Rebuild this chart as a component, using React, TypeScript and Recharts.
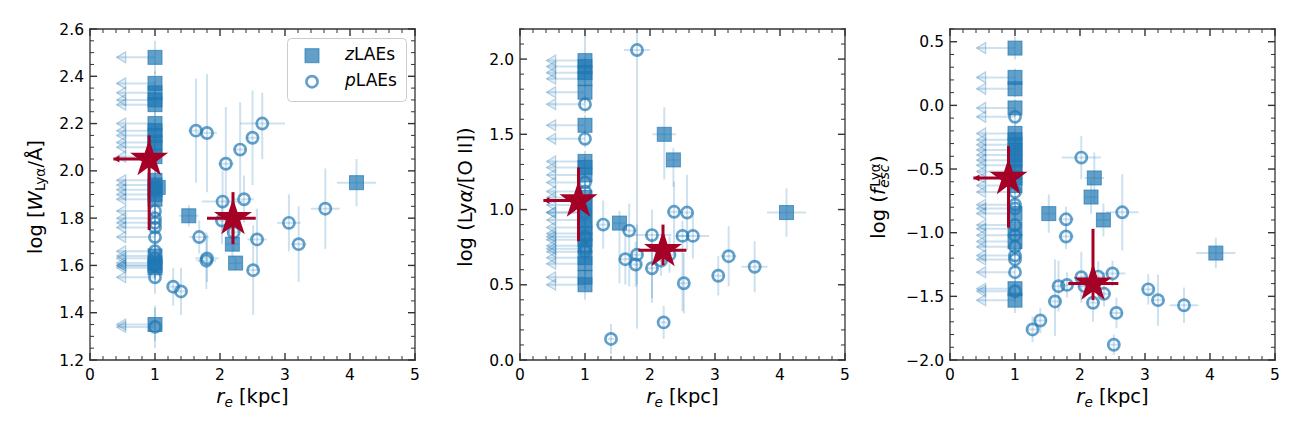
import React from 'react';
import { ScatterChart, Scatter, XAxis, YAxis, ErrorBar, Legend } from 'recharts';

type EV = number | [number, number];
interface Pt { x: number; y: number; ex?: EV; ey?: EV; lim?: boolean }

const FONT = '"DejaVu Sans", Verdana, sans-serif';
const INK = '#333333';
const MARK = 'rgba(31,119,180,0.7)';
const ERR = 'rgba(31,119,180,0.22)';
const ARROW_FILL = 'rgba(31,119,180,0.12)';
const ARROW_EDGE = 'rgba(31,119,180,0.3)';
const RED = '#a50026';

// ---------- shared x axis ----------
const X_DOMAIN: [number, number] = [0, 5];
const X_MAJOR = [0, 1, 2, 3, 4, 5];
const X_MINOR_STEP = 0.2;
const LIMIT_TIP = 0.41; // r_e where the upper-limit arrows end
const STAR_TIP = 0.36;

// ---------- panel 1 : log W_Lya ----------
const W_DOMAIN: [number, number] = [1.2, 2.6];
const W_MAJOR = [1.2, 1.4, 1.6, 1.8, 2.0, 2.2, 2.4, 2.6];
const W_MINOR_STEP = 0.05;
const W_LIM_Z: Pt[] = [
  { x: 1, y: 2.48, ey: 0.07 }, { x: 1, y: 2.37, ey: 0.05 }, { x: 1, y: 2.33, ey: 0.05 },
  { x: 1, y: 2.30, ey: 0.05 }, { x: 1, y: 2.28, ey: 0.05 }, { x: 1, y: 2.20, ey: 0.05 },
  { x: 1, y: 2.17, ey: 0.05 }, { x: 1, y: 2.15, ey: 0.05 }, { x: 1, y: 2.12, ey: 0.05 },
  { x: 1, y: 2.10, ey: 0.05 }, { x: 1, y: 2.06, ey: 0.05 }, { x: 1, y: 1.96, ey: 0.06 },
  { x: 1, y: 1.94, ey: 0.06 }, { x: 1, y: 1.92, ey: 0.06 }, { x: 1, y: 1.90, ey: 0.06 },
  { x: 1, y: 1.88, ey: 0.06 }, { x: 1, y: 1.64, ey: 0.06 }, { x: 1, y: 1.61, ey: 0.06 },
  { x: 1, y: 1.60, ey: 0.06 }, { x: 1, y: 1.59, ey: 0.06 }, { x: 1, y: 1.35, ey: 0.07 },
];
const W_LIM_P: Pt[] = [
  { x: 1, y: 1.83, ey: 0.06 }, { x: 1, y: 1.80, ey: 0.06 }, { x: 1, y: 1.78, ey: 0.06 },
  { x: 1, y: 1.76, ey: 0.06 }, { x: 1, y: 1.72, ey: 0.06 }, { x: 1, y: 1.66, ey: 0.06 },
  { x: 1, y: 1.63, ey: 0.06 }, { x: 1, y: 1.60, ey: 0.06 }, { x: 1, y: 1.55, ey: 0.07 },
  { x: 1, y: 1.34, ey: 0.09 },
];
const W_DET_Z: Pt[] = [
  { x: 1.05, y: 1.93, ey: 0.04 }, { x: 1.52, y: 1.81, ex: 0.15, ey: 0.045 },
  { x: 2.19, y: 1.69, ex: 0.1, ey: 0.06 }, { x: 2.24, y: 1.61, ex: 0.1, ey: 0.03 },
  { x: 4.10, y: 1.95, ex: 0.3, ey: 0.1 },
];
const W_DET_P: Pt[] = [
  { x: 1.63, y: 2.17, ex: 0.12, ey: 0.22 }, { x: 1.80, y: 2.16, ex: 0.15, ey: 0.25 },
  { x: 2.09, y: 2.03, ex: 0.12, ey: [0.18, 0.24] }, { x: 2.31, y: 2.09, ex: 0.1, ey: 0.2 },
  { x: 2.50, y: 2.14, ex: 0.1, ey: 0.2 }, { x: 2.65, y: 2.20, ex: [0.34, 0.35], ey: [0.15, 0.13] },
  { x: 2.04, y: 1.87, ex: 0.32, ey: 0.13 }, { x: 2.37, y: 1.88, ex: 0.15, ey: 0.1 },
  { x: 2.03, y: 1.79, ex: 0.1, ey: 0.1 }, { x: 2.21, y: 1.74, ex: 0.1, ey: 0.08 },
  { x: 1.68, y: 1.72, ex: 0.15, ey: 0.07 }, { x: 1.80, y: 1.63, ex: 0.18, ey: 0.1 },
  { x: 1.79, y: 1.62, ex: 0.15, ey: 0.12 }, { x: 2.57, y: 1.71, ex: 0.15, ey: 0.13 },
  { x: 2.51, y: 1.58, ex: 0.1, ey: 0.19 }, { x: 1.28, y: 1.51, ex: 0.08, ey: 0.08 },
  { x: 1.40, y: 1.49, ex: 0.08, ey: 0.1 }, { x: 3.06, y: 1.78, ex: 0.18, ey: 0.12 },
  { x: 3.21, y: 1.69, ex: 0.12, ey: 0.16 }, { x: 3.62, y: 1.84, ex: 0.22, ey: 0.17 },
];
const W_STARS: Pt[] = [
  { x: 0.91, y: 2.05, ex: [0.55, 0], ey: [0.30, 0.10], lim: true },
  { x: 2.20, y: 1.80, ex: [0.40, 0.35], ey: [0.11, 0.11] },
];

// ---------- panel 2 : log (Lya/[O II]) ----------
const R_DOMAIN: [number, number] = [0, 2.2];
const R_MAJOR = [0, 0.5, 1.0, 1.5, 2.0];
const R_MINOR_STEP = 0.1;
const R_LIM_Z: Pt[] = [
  { x: 1, y: 1.99, ey: [0.06, 0.2] }, { x: 1, y: 1.95, ey: 0.06 }, { x: 1, y: 1.91, ey: 0.06 },
  { x: 1, y: 1.87, ey: 0.06 }, { x: 1, y: 1.78, ey: 0.07 }, { x: 1, y: 1.56, ey: 0.07 },
  { x: 1, y: 1.32, ey: 0.07 }, { x: 1, y: 1.28, ey: 0.07 }, { x: 1, y: 1.23, ey: 0.07 },
  { x: 1, y: 1.08, ey: 0.07 }, { x: 1, y: 1.03, ey: 0.07 }, { x: 1, y: 0.98, ey: 0.07 },
  { x: 1, y: 0.93, ey: 0.07 }, { x: 1, y: 0.88, ey: 0.07 }, { x: 1, y: 0.84, ey: 0.07 },
  { x: 1, y: 0.80, ey: 0.07 }, { x: 1, y: 0.76, ey: 0.07 }, { x: 1, y: 0.68, ey: 0.07 },
  { x: 1, y: 0.64, ey: 0.07 }, { x: 1, y: 0.55, ey: 0.08 }, { x: 1, y: 0.50, ey: 0.1 },
];
const R_LIM_P: Pt[] = [
  { x: 1, y: 1.70, ey: 0.06 }, { x: 1, y: 1.47, ey: 0.06 }, { x: 1, y: 1.18, ey: 0.07 },
  { x: 1, y: 1.12, ey: 0.07 }, { x: 1, y: 0.98, ey: 0.07 }, { x: 1, y: 0.82, ey: 0.07 },
  { x: 1, y: 0.74, ey: 0.07 }, { x: 1, y: 0.72, ey: 0.07 },
];
const R_DET_Z: Pt[] = [
  { x: 1.53, y: 0.91, ex: 0.1, ey: [0.4, 0.08] }, { x: 2.22, y: 1.50, ex: 0.18, ey: [0.3, 0.18] },
  { x: 2.36, y: 1.33, ex: 0.08, ey: [0.18, 0.08] }, { x: 4.10, y: 0.98, ex: 0.3, ey: 0.16 },
];
const R_DET_P: Pt[] = [
  { x: 1.80, y: 2.06, ex: 0.2, ey: [1.85, 0.14] }, { x: 1.28, y: 0.90, ex: 0.1, ey: 0.16 },
  { x: 1.68, y: 0.86, ex: 0.12, ey: [0.37, 0.18] }, { x: 2.03, y: 0.83, ex: 0.3, ey: [0.45, 0.17] },
  { x: 2.37, y: 0.985, ex: 0.1, ey: [0.27, 0.2] }, { x: 2.57, y: 0.98, ex: 0.1, ey: 0.25 },
  { x: 2.50, y: 0.825, ex: 0.1, ey: [0.5, 0.1] }, { x: 2.66, y: 0.825, ex: 0.25, ey: 0.15 },
  { x: 1.62, y: 0.67, ex: 0.1, ey: 0.17 }, { x: 1.80, y: 0.70, ex: 0.1, ey: 0.2 },
  { x: 1.78, y: 0.635, ex: 0.1, ey: 0.15 }, { x: 2.03, y: 0.61, ex: 0.1, ey: 0.2 },
  { x: 2.17, y: 0.66, ex: 0.1, ey: 0.1 }, { x: 2.30, y: 0.70, ex: 0.1, ey: 0.12 },
  { x: 2.52, y: 0.51, ex: 0.08, ey: 0.2 }, { x: 3.05, y: 0.56, ex: 0.1, ey: 0.13 },
  { x: 3.21, y: 0.69, ex: 0.12, ey: 0.2 }, { x: 3.61, y: 0.62, ex: 0.2, ey: 0.17 },
  { x: 2.21, y: 0.25, ex: 0.05, ey: 0.11 }, { x: 1.40, y: 0.14, ex: 0.05, ey: 0.1 },
];
const R_STARS: Pt[] = [
  { x: 0.90, y: 1.06, ex: [0.54, 0], ey: [0.27, 0.22], lim: true },
  { x: 2.20, y: 0.73, ex: [0.38, 0.36], ey: [0.10, 0.17] },
];

// ---------- panel 3 : log f_esc ----------
const F_DOMAIN: [number, number] = [-2.0, 0.6];
const F_MAJOR = [-2.0, -1.5, -1.0, -0.5, 0.0, 0.5];
const F_MINOR_STEP = 0.1;
const F_LIM_Z: Pt[] = [
  { x: 1, y: 0.45, ey: 0.09 }, { x: 1, y: 0.22, ey: 0.07 }, { x: 1, y: 0.13, ey: 0.07 },
  { x: 1, y: -0.02, ey: 0.07 }, { x: 1, y: -0.22, ey: 0.07 }, { x: 1, y: -0.27, ey: 0.07 },
  { x: 1, y: -0.31, ey: 0.07 }, { x: 1, y: -0.35, ey: 0.07 }, { x: 1, y: -0.39, ey: 0.07 },
  { x: 1, y: -0.43, ey: 0.07 }, { x: 1, y: -0.47, ey: 0.07 }, { x: 1, y: -0.52, ey: 0.07 },
  { x: 1, y: -0.57, ey: 0.07 }, { x: 1, y: -0.63, ey: 0.07 }, { x: 1, y: -0.85, ey: 0.07 },
  { x: 1, y: -0.97, ey: 0.07 }, { x: 1, y: -1.07, ey: 0.07 }, { x: 1, y: -1.44, ey: 0.08 },
  { x: 1, y: -1.53, ey: 0.1 },
];
const F_LIM_P: Pt[] = [
  { x: 1, y: -0.09, ey: 0.07 }, { x: 1, y: -0.68, ey: 0.07 }, { x: 1, y: -0.78, ey: 0.07 },
  { x: 1, y: -0.81, ey: 0.07 }, { x: 1, y: -0.94, ey: 0.07 }, { x: 1, y: -1.02, ey: 0.07 },
  { x: 1, y: -1.11, ey: 0.07 }, { x: 1, y: -1.18, ey: 0.07 }, { x: 1, y: -1.21, ey: 0.07 },
  { x: 1, y: -1.31, ey: 0.07 }, { x: 1, y: -1.46, ey: 0.08 },
];
const F_DET_Z: Pt[] = [
  { x: 1.52, y: -0.85, ex: 0.1, ey: 0.15 }, { x: 2.22, y: -0.57, ex: 0.15, ey: 0.2 },
  { x: 2.17, y: -0.72, ex: 0.1, ey: 0.13 }, { x: 2.36, y: -0.90, ex: 0.1, ey: 0.13 },
  { x: 4.09, y: -1.16, ex: 0.3, ey: 0.12 },
];
const F_DET_P: Pt[] = [
  { x: 2.02, y: -0.41, ex: 0.3, ey: 0.17 }, { x: 2.65, y: -0.84, ex: 0.25, ey: 0.3 },
  { x: 1.785, y: -0.895, ex: 0.12, ey: 0.1 }, { x: 1.785, y: -1.03, ex: 0.12, ey: 0.1 },
  { x: 2.02, y: -1.35, ex: 0.1, ey: 0.2 }, { x: 2.28, y: -1.345, ex: 0.1, ey: 0.12 },
  { x: 2.50, y: -1.32, ex: 0.2, ey: 0.1 }, { x: 1.67, y: -1.42, ex: 0.1, ey: 0.2 },
  { x: 1.80, y: -1.41, ex: 0.1, ey: 0.1 }, { x: 2.07, y: -1.42, ex: 0.1, ey: 0.1 },
  { x: 2.37, y: -1.48, ex: 0.1, ey: 0.1 }, { x: 2.20, y: -1.55, ex: 0.1, ey: 0.15 },
  { x: 1.615, y: -1.54, ex: 0.1, ey: [0.27, 0.33] }, { x: 2.56, y: -1.63, ex: 0.1, ey: 0.12 },
  { x: 1.39, y: -1.69, ex: 0.1, ey: 0.1 }, { x: 1.27, y: -1.76, ex: 0.08, ey: 0.1 },
  { x: 2.52, y: -1.88, ex: 0.08, ey: 0.08 }, { x: 3.05, y: -1.445, ex: 0.1, ey: 0.12 },
  { x: 3.20, y: -1.53, ex: 0.1, ey: 0.2 }, { x: 3.60, y: -1.57, ex: 0.22, ey: 0.14 },
];
const F_STARS: Pt[] = [
  { x: 0.90, y: -0.57, ex: [0.54, 0], ey: [0.39, 0.25], lim: true },
  { x: 2.20, y: -1.40, ex: [0.38, 0.39], ey: [0.13, 0.43] },
];

const LEGEND_ITEMS = [
  { italic: 'z', rest: 'LAEs', marker: 'square' },
  { italic: 'p', rest: 'LAEs', marker: 'circle' },
];

// ---------- helpers ----------
const range = (a: number, b: number, step: number): number[] => {
  const n = Math.round((b - a) / step);
  const out: number[] = [];
  for (let i = 0; i <= n; i++) out.push(Math.round((a + i * step) * 1e6) / 1e6);
  return out;
};
const isIn = (v: number, arr: number[]) => arr.some((m) => Math.abs(m - v) < 1e-6);
const fmtX = (v: number) => String(Math.round(v));
const fmtY = (v: number) => (v < -1e-9 ? '\u2212' : '') + Math.abs(v).toFixed(1);

type Side = 'bottom' | 'top' | 'left' | 'right';
const TICK_FS = 15.5;
const makeTick = (side: Side, majors: number[], fmt?: (v: number) => string) => (props: any) => {
  const { x, y, payload } = props;
  const v = Number(payload?.value);
  const major = isIn(v, majors);
  const len = major ? 7 : 4;
  const sw = major ? 1.4 : 1;
  let x2 = x;
  let y2 = y;
  if (side === 'bottom') y2 = y - len;
  if (side === 'top') y2 = y + len;
  if (side === 'left') x2 = x + len;
  if (side === 'right') x2 = x - len;
  let label: React.ReactNode = null;
  if (major && fmt && side === 'bottom') {
    label = (
      <text x={x} y={y + 20.3} textAnchor="middle" fontFamily={FONT} fontSize={TICK_FS} fill="#000">
        {fmt(v)}
      </text>
    );
  }
  if (major && fmt && side === 'left') {
    label = (
      <text x={x - 6} y={y + 5.6} textAnchor="end" fontFamily={FONT} fontSize={TICK_FS} fill="#000">
        {fmt(v)}
      </text>
    );
  }
  return (
    <g>
      <line x1={x} y1={y} x2={x2} y2={y2} stroke={INK} strokeWidth={sw} />
      {label}
    </g>
  );
};

const squareShape = (p: any) => (
  <rect x={p.cx - 7} y={p.cy - 7} width={14} height={14} fill={MARK} stroke={MARK} strokeWidth={1} />
);
const circleShape = (p: any) => (
  <circle cx={p.cx} cy={p.cy} r={5.6} fill="none" stroke={MARK} strokeWidth={2.7} />
);
const arrowHead = (p: any) => (
  <polygon
    points={`${p.cx},${p.cy} ${p.cx + 9},${p.cy - 5.5} ${p.cx + 9},${p.cy + 5.5}`}
    fill={ARROW_FILL}
    stroke={ARROW_EDGE}
    strokeWidth={1.2}
  />
);
const redHead = (p: any) => (
  <polygon points={`${p.cx},${p.cy} ${p.cx + 6},${p.cy - 3.5} ${p.cx + 6},${p.cy + 3.5}`} fill={RED} />
);
const starShape = (p: any) => {
  const R = 20;
  const r = R * 0.381966;
  const pts: string[] = [];
  for (let i = 0; i < 10; i++) {
    const a = -Math.PI / 2 + (i * Math.PI) / 5;
    const rad = i % 2 === 0 ? R : r;
    pts.push(`${p.cx + rad * Math.cos(a)},${p.cy + rad * Math.sin(a)}`);
  }
  return <polygon points={pts.join(' ')} fill={RED} />;
};

const TITLE_FS = 19.5;
const SUB_FS = 13.7;
const tStyle: React.CSSProperties = { fontFamily: FONT, whiteSpace: 'pre' };
const Y_AXIS_W = 100;
const PLOT_W = 325;

const XTitle = () => (
  <text x={Y_AXIS_W + PLOT_W / 2} y={403} textAnchor="middle" fontSize={TITLE_FS} fill="#000" style={tStyle}>
    <tspan fontStyle="italic">r</tspan>
    <tspan fontStyle="italic" fontSize={SUB_FS} dy={4}>e</tspan>
    <tspan dy={-4}>{' [kpc]'}</tspan>
  </text>
);
const YTitleW = () => (
  <text transform="translate(51.5,197) rotate(-90)" textAnchor="middle" fontSize={TITLE_FS} fill="#000" style={tStyle}>
    {'log ['}
    <tspan fontStyle="italic">W</tspan>
    <tspan fontSize={SUB_FS} dy={3.5}>{'Ly\u03b1'}</tspan>
    <tspan dy={-3.5}>{'/\u00c5]'}</tspan>
  </text>
);
const YTitleR = () => (
  <text transform="translate(52,197) rotate(-90)" textAnchor="middle" fontSize={TITLE_FS} fill="#000" style={tStyle}>
    {'log (Ly'}
    <tspan fontStyle="italic">{'\u03b1'}</tspan>
    <tspan>{'/[O II])'}</tspan>
  </text>
);
const YTitleF = () => (
  <text transform="translate(34.7,197) rotate(-90)" textAnchor="middle" fontSize={TITLE_FS} fill="#000" style={tStyle}>
    {'log ('}
    <tspan fontStyle="italic">f</tspan>
    <tspan fontSize={SUB_FS} dx={1.5} dy={-5}>{'Ly\u03b1'}</tspan>
    <tspan fontSize={SUB_FS} fontStyle="italic" dx={-24.5} dy={9}>esc</tspan>
    <tspan dx={1.7} dy={-4}>)</tspan>
  </text>
);

const LegendBox = () => (
  <svg width={121} height={65} style={{ display: 'block' }}>
    <rect x={0.5} y={0.5} width={119} height={63} rx={4} fill="rgba(255,255,255,0.8)" stroke="#cccccc" strokeWidth={1} />
    {LEGEND_ITEMS.map((it, i) => {
      const cy = 17.7 + i * 26;
      return (
        <g key={it.italic}>
          {it.marker === 'square'
            ? squareShape({ cx: 25, cy })
            : circleShape({ cx: 25, cy })}
          <text x={58} y={cy + 4} fontFamily={FONT} fontSize={17} fill="#000">
            <tspan fontStyle="italic">{it.italic}</tspan>
            <tspan>{it.rest}</tspan>
          </text>
        </g>
      );
    })}
  </svg>
);

const AXIS_LINE = { stroke: INK, strokeWidth: 1.3, strokeLinecap: 'square' as const };

interface PanelProps {
  left: number;
  yDomain: [number, number];
  yMajor: number[];
  yMinorStep: number;
  limZ: Pt[];
  limP: Pt[];
  detZ: Pt[];
  detP: Pt[];
  stars: Pt[];
  yTitle: React.ReactElement;
  legend?: boolean;
}

function Panel(p: PanelProps) {
  const xTicks = range(X_DOMAIN[0], X_DOMAIN[1], X_MINOR_STEP);
  const yTicks = range(p.yDomain[0], p.yDomain[1], p.yMinorStep);
  const arrows = p.limZ.concat(p.limP).map((d) => ({ x: LIMIT_TIP, y: d.y, shaft: [0, d.x - LIMIT_TIP] }));
  const starHeads = p.stars.filter((s) => s.lim).map((s) => ({ x: STAR_TIP, y: s.y }));
  const common = { xAxisId: 'b', yAxisId: 'l', isAnimationActive: false };
  const redBar: any = { width: 0, stroke: RED, strokeWidth: 3, isAnimationActive: false, zIndex: 1500 };
  const topLayer: any = { zIndex: 1600 };
  return (
    <div style={{ position: 'absolute', left: p.left - Y_AXIS_W, top: 0 }}>
      <ScatterChart width={Y_AXIS_W + PLOT_W + 10} height={432} margin={{ top: 28, right: 9, bottom: 71, left: 0 }}>
        <XAxis
          xAxisId="b"
          orientation="bottom"
          type="number"
          dataKey="x"
          domain={X_DOMAIN}
          allowDataOverflow
          ticks={xTicks}
          interval={0}
          tick={makeTick('bottom', X_MAJOR, fmtX)}
          tickLine={false}
          tickSize={0}
          tickMargin={0}
          height={1}
          axisLine={AXIS_LINE}
          label={<XTitle />}
        />
        <XAxis
          xAxisId="t"
          orientation="top"
          type="number"
          dataKey="x"
          domain={X_DOMAIN}
          allowDataOverflow
          ticks={xTicks}
          interval={0}
          tick={makeTick('top', X_MAJOR)}
          tickLine={false}
          tickSize={0}
          tickMargin={0}
          height={1}
          axisLine={AXIS_LINE}
        />
        <YAxis
          yAxisId="l"
          orientation="left"
          type="number"
          dataKey="y"
          domain={p.yDomain}
          allowDataOverflow
          ticks={yTicks}
          interval={0}
          tick={makeTick('left', p.yMajor, fmtY)}
          tickLine={false}
          tickSize={0}
          tickMargin={0}
          width={Y_AXIS_W}
          axisLine={AXIS_LINE}
          label={p.yTitle}
        />
        <YAxis
          yAxisId="r"
          orientation="right"
          type="number"
          dataKey="y"
          domain={p.yDomain}
          allowDataOverflow
          ticks={yTicks}
          interval={0}
          tick={makeTick('right', p.yMajor)}
          tickLine={false}
          tickSize={0}
          tickMargin={0}
          width={1}
          axisLine={AXIS_LINE}
        />
        <Scatter {...common} data={arrows} shape={arrowHead}>
          <ErrorBar dataKey="shaft" direction="x" width={0} stroke={ERR} strokeWidth={2} isAnimationActive={false} />
        </Scatter>
        <Scatter {...common} data={p.limZ} shape={squareShape}>
          <ErrorBar dataKey="ey" direction="y" width={0} stroke={ERR} strokeWidth={2} isAnimationActive={false} />
        </Scatter>
        <Scatter {...common} data={p.detZ} shape={squareShape}>
          <ErrorBar dataKey="ex" direction="x" width={0} stroke={ERR} strokeWidth={2} isAnimationActive={false} />
          <ErrorBar dataKey="ey" direction="y" width={0} stroke={ERR} strokeWidth={2} isAnimationActive={false} />
        </Scatter>
        <Scatter {...common} data={p.limP} shape={circleShape}>
          <ErrorBar dataKey="ey" direction="y" width={0} stroke={ERR} strokeWidth={2} isAnimationActive={false} />
        </Scatter>
        <Scatter {...common} data={p.detP} shape={circleShape}>
          <ErrorBar dataKey="ex" direction="x" width={0} stroke={ERR} strokeWidth={2} isAnimationActive={false} />
          <ErrorBar dataKey="ey" direction="y" width={0} stroke={ERR} strokeWidth={2} isAnimationActive={false} />
        </Scatter>
        <Scatter {...common} {...topLayer} data={p.stars} shape={starShape}>
          <ErrorBar dataKey="ex" direction="x" {...redBar} />
          <ErrorBar dataKey="ey" direction="y" {...redBar} />
        </Scatter>
        <Scatter {...common} {...topLayer} data={starHeads} shape={redHead} />
        {p.legend ? (
          <Legend
            content={<LegendBox />}
            layout="horizontal"
            verticalAlign="middle"
            align="center"
            wrapperStyle={{ left: Y_AXIS_W + 196.5, top: 38, width: 121, height: 65 }}
          />
        ) : null}
      </ScatterChart>
    </div>
  );
}

export default function App() {
  return (
    <div style={{ position: 'absolute', left: 0, top: 0, width: 1296, height: 432, background: '#ffffff', fontFamily: FONT }}>
      <Panel left={90} yDomain={W_DOMAIN} yMajor={W_MAJOR} yMinorStep={W_MINOR_STEP}
        limZ={W_LIM_Z} limP={W_LIM_P} detZ={W_DET_Z} detP={W_DET_P} stars={W_STARS}
        yTitle={<YTitleW />} legend />
      <Panel left={520} yDomain={R_DOMAIN} yMajor={R_MAJOR} yMinorStep={R_MINOR_STEP}
        limZ={R_LIM_Z} limP={R_LIM_P} detZ={R_DET_Z} detP={R_DET_P} stars={R_STARS}
        yTitle={<YTitleR />} />
      <Panel left={950} yDomain={F_DOMAIN} yMajor={F_MAJOR} yMinorStep={F_MINOR_STEP}
        limZ={F_LIM_Z} limP={F_LIM_P} detZ={F_DET_Z} detP={F_DET_P} stars={F_STARS}
        yTitle={<YTitleF />} />
    </div>
  );
}
